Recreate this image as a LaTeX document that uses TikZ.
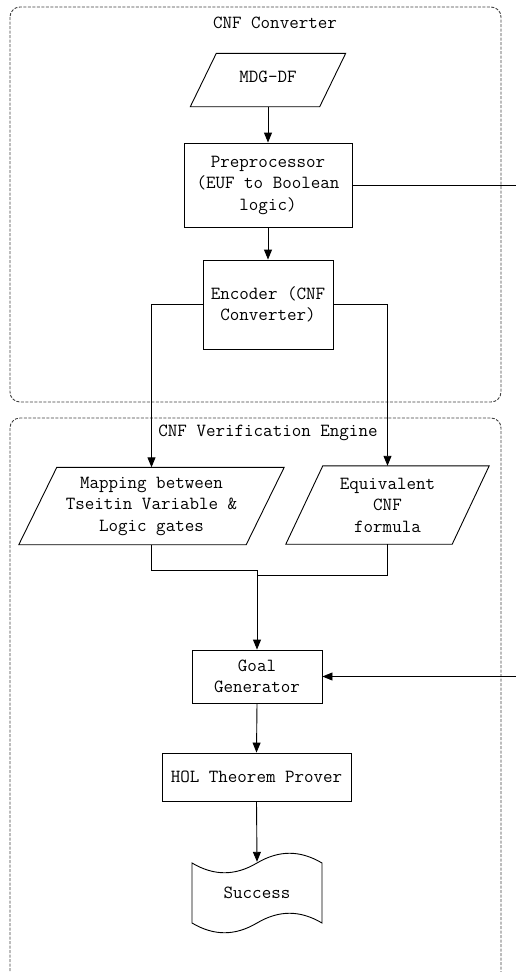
\documentclass[tikz,border=0pt]{standalone}
\usetikzlibrary{arrows.meta}

% slanted input/output frame drawn around an invisible node
\newcommand\slantframe[2]{%
  \draw[stepline] ([xshift=#2]#1.north west) -- ([xshift=#2]#1.north east)
    -- ([xshift=-#2]#1.south east) -- ([xshift=-#2]#1.south west) -- cycle;}

\begin{document}
\begin{tikzpicture}[x=1pt,y=-1pt,
  every node/.style={font=\ttfamily\fontsize{18.5}{21.5}\selectfont, align=center, inner sep=0pt},
  group/.style={draw=black!75, line width=0.9pt, dash pattern=on 3pt off 1.5pt, rounded corners=10pt},
  stepline/.style={line width=0.9pt},
  stepbox/.style={draw, line width=0.9pt},
  iobox/.style={},
  link/.style={line width=0.9pt},
  flow/.style={line width=0.9pt, -{Triangle[length=10pt,width=8pt]}}]

\useasboundingbox (0,0) rectangle (516,972);

% the two dashed groups
\draw[group] (10,7) rectangle (501,402);
\draw[group] (10,418) rectangle (501,982);
\node (t1) at (275,23) {CNF Converter};
\node (t2) at (268,433) {CNF Verification Engine};

% steps
\node[iobox, minimum width=129, minimum height=53] (mdg) at (268,80) {\raisebox{6pt}{MDG-DF}};
\slantframe{mdg}{13}
\node[stepbox, minimum width=168, minimum height=84] (pre) at (268,185)
  {Preprocessor\\(EUF to Boolean\\logic)};
\node[stepbox, minimum width=130, minimum height=89] (enc) at (268,304.5)
  {Encoder (CNF\\Converter)};
\node[iobox, minimum width=227, minimum height=77] (map) at (151.5,506)
  {Mapping between\\Tseitin Variable \&\\Logic gates};
\slantframe{map}{19}
\node[iobox, minimum width=166, minimum height=78] (eq) at (387.5,505)
  {Equivalent\\CNF\\formula};
\slantframe{eq}{18.5}
\node[stepbox, minimum width=130, minimum height=53] (goal) at (257,676.5)
  {Goal\\Generator};
\node[stepbox, minimum width=189, minimum height=48] (hol) at (256.5,777)
  {HOL Theorem Prover};
\node[iobox, minimum width=130, minimum height=62] (succ) at (257,893) {Success};
\begin{scope}[shift={(succ.center)}]
  \draw[stepline] (-65,-30) .. controls (-43,-17) and (-22,-17) .. (0,-30)
    .. controls (22,-43) and (43,-43) .. (65,-30) -- (65,30)
    .. controls (43,17) and (22,17) .. (0,30)
    .. controls (-22,43) and (-43,43) .. (-65,30) -- cycle;
\end{scope}

% connectors
\draw[flow] (mdg.south) -- (pre.north);
\draw[flow] (pre.south) -- (enc.north);
\draw[flow] (enc.west) -| (map.north);
\draw[flow] (enc.east) -| (eq.north);
\coordinate (jl) at (257,570);
\coordinate (jr) at (257,575);
\draw[link] (map.south) |- (jl);
\draw[link] (eq.south) |- (jr);
\draw[flow] (jl) -- (goal.north);
\coordinate (fbtop) at (530,185);
\coordinate (fbbot) at (530,676.5);
\draw[flow] (pre.east) -- (fbtop) -- (fbbot) -- (goal.east);
\draw[flow] (goal.south) -- (hol.north);
\draw[flow] (hol.south) -- (succ.north);
\end{tikzpicture}
\end{document}
